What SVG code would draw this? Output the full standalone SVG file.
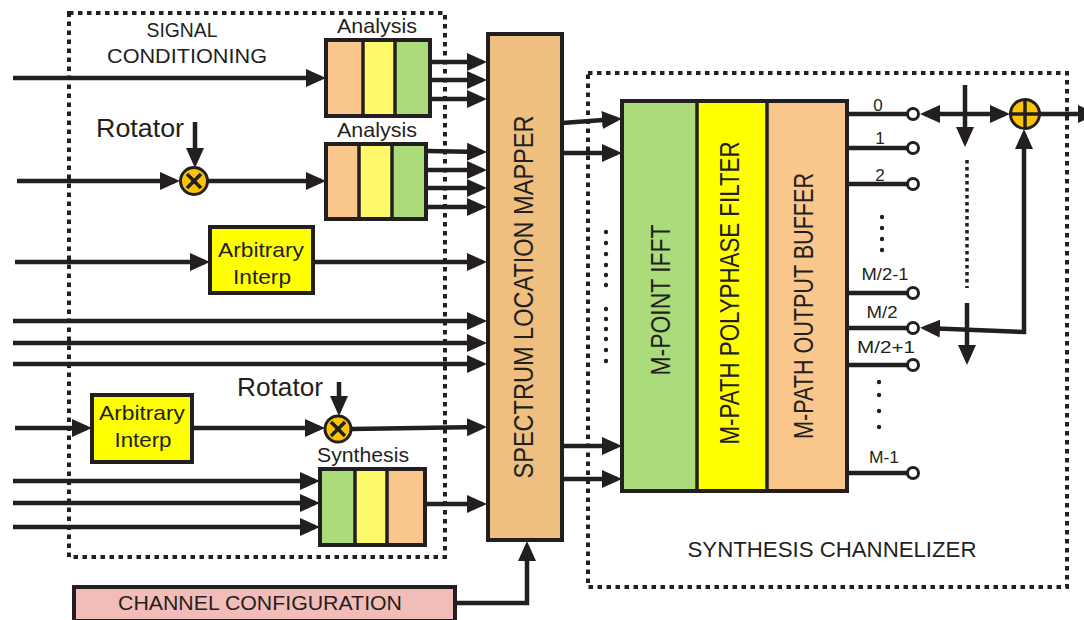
<svg xmlns="http://www.w3.org/2000/svg" width="1084" height="620" viewBox="0 0 1084 620">
<style>
  .t { font-family: "Liberation Sans", Arial, sans-serif; fill: #231f20; }
  .w { stroke: #231f20; stroke-width: 4.5; fill: none; }
  .a { marker-end: url(#ah); }
  .box { stroke: #231f20; stroke-width: 4; }
  .div { stroke: #231f20; stroke-width: 3.5; }
  .dot { stroke: #231f20; stroke-width: 4; stroke-dasharray: 4.5 4.5; fill: none; }
  .tap { fill: #ffffff; stroke: #231f20; stroke-width: 3; }
  .op { fill: #fcc400; stroke: #231f20; stroke-width: 3; }
  .org { fill: #f9c68c; }
  .yel { fill: #fff96c; }
  .grn { fill: #acdb7c; }
  .dd { fill: #231f20; }
</style>
<defs>
  <marker id="ah" viewBox="0 0 20 18" refX="15" refY="9" markerWidth="20" markerHeight="18" markerUnits="userSpaceOnUse" orient="auto-start-reverse">
    <path d="M0,0 L20,9 L0,18 Z" fill="#231f20"/>
  </marker>
</defs>
<rect width="1084" height="620" fill="#ffffff"/>

<!-- dotted boundaries -->
<g id="signal-conditioning-boundary">
  <rect x="69" y="13" width="376" height="544" class="dot"/>
  <text class="t" x="182" y="37" font-size="21" text-anchor="middle" textLength="71" lengthAdjust="spacingAndGlyphs">SIGNAL</text>
  <text class="t" x="187" y="63" font-size="21" text-anchor="middle" textLength="160" lengthAdjust="spacingAndGlyphs">CONDITIONING</text>
</g>
<g id="synthesis-channelizer-boundary">
  <rect x="588" y="73" width="479" height="514" class="dot"/>
  <text class="t" x="832" y="557" font-size="22" text-anchor="middle" textLength="289" lengthAdjust="spacingAndGlyphs">SYNTHESIS CHANNELIZER</text>
</g>

<!-- connectors -->
<g id="connectors">
  <line x1="13" y1="78" x2="321" y2="78" class="w a"/>
  <line x1="430" y1="62" x2="482" y2="62" class="w a"/>
  <line x1="430" y1="80" x2="482" y2="80" class="w a"/>
  <line x1="430" y1="99" x2="482" y2="99" class="w a"/>
  <line x1="195" y1="122" x2="195" y2="163" class="w a"/>
  <line x1="17" y1="181" x2="175" y2="181" class="w a"/>
  <line x1="208" y1="181" x2="321" y2="181" class="w a"/>
  <line x1="426" y1="151" x2="482" y2="152" class="w a"/>
  <line x1="426" y1="170" x2="482" y2="170" class="w a"/>
  <line x1="426" y1="188" x2="482" y2="188" class="w a"/>
  <line x1="426" y1="207" x2="482" y2="207" class="w a"/>
  <line x1="15" y1="262" x2="205" y2="262" class="w a"/>
  <line x1="313" y1="262" x2="482" y2="262" class="w a"/>
  <line x1="13" y1="321" x2="482" y2="321" class="w a"/>
  <line x1="13" y1="343" x2="482" y2="343" class="w a"/>
  <line x1="13" y1="364" x2="482" y2="364" class="w a"/>
  <line x1="15" y1="428" x2="87" y2="428" class="w a"/>
  <line x1="192" y1="428" x2="320" y2="428" class="w a"/>
  <line x1="339" y1="382" x2="339" y2="411" class="w a"/>
  <line x1="351" y1="429" x2="482" y2="427" class="w a"/>
  <line x1="13" y1="481" x2="315" y2="481" class="w a"/>
  <line x1="13" y1="503" x2="315" y2="503" class="w a"/>
  <line x1="13" y1="527" x2="315" y2="527" class="w a"/>
  <line x1="425" y1="504" x2="482" y2="504" class="w a"/>
  <polyline points="455,603 527,603 527,546" class="w a"/>
  <line x1="562" y1="123" x2="617" y2="119" class="w a"/>
  <line x1="562" y1="153" x2="617" y2="153" class="w a"/>
  <line x1="562" y1="446" x2="617" y2="446" class="w a"/>
  <line x1="562" y1="479" x2="617" y2="479" class="w a"/>
  <!-- output taps -->
  <line x1="847" y1="114" x2="907" y2="114" class="w"/>
  <line x1="847" y1="148" x2="907" y2="148" class="w"/>
  <line x1="847" y1="184" x2="907" y2="184" class="w"/>
  <line x1="847" y1="293" x2="907" y2="293" class="w"/>
  <line x1="847" y1="328" x2="907" y2="328" class="w"/>
  <line x1="847" y1="365" x2="907" y2="365" class="w"/>
  <line x1="847" y1="473" x2="907" y2="473" class="w"/>
  <line x1="925" y1="114" x2="1005" y2="114" class="w a" style="marker-start:url(#ah)"/>
  <line x1="965" y1="85" x2="965" y2="142" class="w a"/>
  <line x1="967" y1="160" x2="967" y2="288" stroke="#231f20" stroke-width="3.5" stroke-dasharray="3.5 3.5"/>
  <line x1="967" y1="303" x2="967" y2="360" class="w a"/>
  <polyline points="1024,134 1024,332 925,328" class="w" style="marker-start:url(#ah);marker-end:url(#ah)"/>
  <line x1="1039" y1="114" x2="1084" y2="114" class="w"/>
  <path d="M1078,105 L1098,114 L1078,123 Z" class="dd"/>
</g>

<!-- analysis 1 -->
<g id="analysis-1">
  <rect x="326" y="40" width="37" height="76" class="org"/>
  <rect x="363" y="40" width="32" height="76" class="yel"/>
  <rect x="395" y="40" width="35" height="76" class="grn"/>
  <rect x="326" y="40" width="104" height="76" fill="none" class="box"/>
  <line x1="363" y1="40" x2="363" y2="116" class="div"/>
  <line x1="395" y1="40" x2="395" y2="116" class="div"/>
  <text class="t" x="377" y="33" font-size="21" text-anchor="middle" textLength="80" lengthAdjust="spacingAndGlyphs">Analysis</text>
</g>

<!-- analysis 2 -->
<g id="analysis-2">
  <rect x="326" y="144" width="33" height="75" class="org"/>
  <rect x="359" y="144" width="33" height="75" class="yel"/>
  <rect x="392" y="144" width="34" height="75" class="grn"/>
  <rect x="326" y="144" width="100" height="75" fill="none" class="box"/>
  <line x1="359" y1="144" x2="359" y2="219" class="div"/>
  <line x1="392" y1="144" x2="392" y2="219" class="div"/>
  <text class="t" x="377" y="137" font-size="21" text-anchor="middle" textLength="80" lengthAdjust="spacingAndGlyphs">Analysis</text>
</g>

<!-- rotator 1 -->
<g id="rotator-1">
  <text class="t" x="96" y="137" font-size="26" textLength="88" lengthAdjust="spacingAndGlyphs">Rotator</text>
  <circle cx="194" cy="181" r="13.5" class="op"/>
  <line x1="187" y1="174" x2="201" y2="188" stroke="#231f20" stroke-width="3.5"/>
  <line x1="201" y1="174" x2="187" y2="188" stroke="#231f20" stroke-width="3.5"/>
</g>

<!-- arbitrary interp 1 -->
<g id="arbitrary-interp-1">
  <rect x="210" y="227" width="103" height="66" fill="#ffff00" class="box"/>
  <text class="t" x="261" y="257" font-size="21" text-anchor="middle" textLength="86" lengthAdjust="spacingAndGlyphs">Arbitrary</text>
  <text class="t" x="262" y="284" font-size="21" text-anchor="middle" textLength="58" lengthAdjust="spacingAndGlyphs">Interp</text>
</g>

<!-- rotator 2 -->
<g id="rotator-2">
  <text class="t" x="237" y="396" font-size="26" textLength="86" lengthAdjust="spacingAndGlyphs">Rotator</text>
  <circle cx="338" cy="429" r="13" class="op"/>
  <line x1="331" y1="422" x2="345" y2="436" stroke="#231f20" stroke-width="3.5"/>
  <line x1="345" y1="422" x2="331" y2="436" stroke="#231f20" stroke-width="3.5"/>
</g>

<!-- arbitrary interp 2 -->
<g id="arbitrary-interp-2">
  <rect x="92" y="395" width="100" height="67" fill="#ffff00" class="box"/>
  <text class="t" x="142" y="420" font-size="21" text-anchor="middle" textLength="86" lengthAdjust="spacingAndGlyphs">Arbitrary</text>
  <text class="t" x="143" y="447" font-size="21" text-anchor="middle" textLength="57" lengthAdjust="spacingAndGlyphs">Interp</text>
</g>

<!-- synthesis -->
<g id="synthesis">
  <rect x="320" y="469" width="35" height="76" class="grn"/>
  <rect x="355" y="469" width="32" height="76" class="yel"/>
  <rect x="387" y="469" width="38" height="76" class="org"/>
  <rect x="320" y="469" width="105" height="76" fill="none" class="box"/>
  <line x1="355" y1="469" x2="355" y2="545" class="div"/>
  <line x1="387" y1="469" x2="387" y2="545" class="div"/>
  <text class="t" x="363" y="462" font-size="21" text-anchor="middle" textLength="92" lengthAdjust="spacingAndGlyphs">Synthesis</text>
</g>

<!-- spectrum location mapper -->
<g id="spectrum-location-mapper">
  <rect x="488" y="34" width="74" height="506" fill="#efbf7f" class="box"/>
  <text class="t" transform="translate(533,297) rotate(-90)" font-size="27" text-anchor="middle" textLength="363" lengthAdjust="spacingAndGlyphs">SPECTRUM LOCATION MAPPER</text>
</g>

<!-- channel configuration -->
<g id="channel-configuration">
  <rect x="74" y="587" width="381" height="34" fill="#f2bcb8" class="box"/>
  <text class="t" x="260" y="610" font-size="21" text-anchor="middle" textLength="284" lengthAdjust="spacingAndGlyphs">CHANNEL CONFIGURATION</text>
</g>

<!-- ellipsis dots before IFFT -->
<g id="input-dots">
  <circle cx="606" cy="232" r="2.2" class="dd"/><circle cx="606" cy="243" r="2.2" class="dd"/>
  <circle cx="606" cy="254" r="2.2" class="dd"/><circle cx="606" cy="265" r="2.2" class="dd"/>
  <circle cx="606" cy="275" r="2.2" class="dd"/><circle cx="606" cy="285" r="2.2" class="dd"/>
  <circle cx="606" cy="309" r="2.2" class="dd"/><circle cx="606" cy="319" r="2.2" class="dd"/>
  <circle cx="606" cy="329" r="2.2" class="dd"/><circle cx="606" cy="339" r="2.2" class="dd"/>
  <circle cx="606" cy="350" r="2.2" class="dd"/><circle cx="606" cy="361" r="2.2" class="dd"/>
</g>

<!-- IFFT -->
<g id="m-point-ifft">
  <rect x="622" y="101" width="75" height="390" class="grn"/>
  <text class="t" transform="translate(670,300) rotate(-90)" font-size="27" text-anchor="middle" textLength="151" lengthAdjust="spacingAndGlyphs">M-POINT IFFT</text>
</g>
<g id="m-path-polyphase-filter">
  <rect x="697" y="101" width="70" height="390" fill="#ffff00"/>
  <text class="t" transform="translate(739,293) rotate(-90)" font-size="27" text-anchor="middle" textLength="303" lengthAdjust="spacingAndGlyphs">M-PATH POLYPHASE FILTER</text>
</g>
<g id="m-path-output-buffer">
  <rect x="767" y="101" width="80" height="390" class="org"/>
  <text class="t" transform="translate(813,306) rotate(-90)" font-size="27" text-anchor="middle" textLength="266" lengthAdjust="spacingAndGlyphs">M-PATH OUTPUT BUFFER</text>
</g>
<g id="channelizer-frame">
  <rect x="622" y="101" width="225" height="390" fill="none" class="box"/>
  <line x1="697" y1="101" x2="697" y2="491" class="div"/>
  <line x1="767" y1="101" x2="767" y2="491" class="div"/>
</g>

<!-- output taps -->
<g id="output-taps">
  <circle cx="913" cy="114" r="5.5" class="tap"/>
  <circle cx="913" cy="148" r="5.5" class="tap"/>
  <circle cx="913" cy="184" r="5.5" class="tap"/>
  <circle cx="913" cy="293" r="5.5" class="tap"/>
  <circle cx="913" cy="328" r="5.5" class="tap"/>
  <circle cx="913" cy="365" r="5.5" class="tap"/>
  <circle cx="913" cy="473" r="5.5" class="tap"/>
  <text class="t" x="878" y="111" font-size="17" text-anchor="middle">0</text>
  <text class="t" x="880" y="144" font-size="17" text-anchor="middle">1</text>
  <text class="t" x="880" y="181" font-size="17" text-anchor="middle">2</text>
  <text class="t" x="885" y="280" font-size="17" text-anchor="middle" textLength="47" lengthAdjust="spacingAndGlyphs">M/2-1</text>
  <text class="t" x="882" y="318" font-size="17" text-anchor="middle" textLength="31" lengthAdjust="spacingAndGlyphs">M/2</text>
  <text class="t" x="886" y="353" font-size="17" text-anchor="middle" textLength="58" lengthAdjust="spacingAndGlyphs">M/2+1</text>
  <text class="t" x="884" y="463" font-size="17" text-anchor="middle" textLength="30" lengthAdjust="spacingAndGlyphs">M-1</text>
  <circle cx="882" cy="217" r="2.2" class="dd"/><circle cx="882" cy="228" r="2.2" class="dd"/>
  <circle cx="882" cy="239" r="2.2" class="dd"/><circle cx="882" cy="250" r="2.2" class="dd"/>
  <circle cx="879" cy="382" r="2.2" class="dd"/><circle cx="879" cy="395" r="2.2" class="dd"/>
  <circle cx="879" cy="411" r="2.2" class="dd"/><circle cx="879" cy="427" r="2.2" class="dd"/>
</g>

<!-- adder -->
<g id="adder">
  <circle cx="1025" cy="114" r="14.5" class="op"/>
  <line x1="1011" y1="114" x2="1039" y2="114" stroke="#231f20" stroke-width="3.5"/>
  <line x1="1025" y1="100" x2="1025" y2="128" stroke="#231f20" stroke-width="3.5"/>
</g>
</svg>
